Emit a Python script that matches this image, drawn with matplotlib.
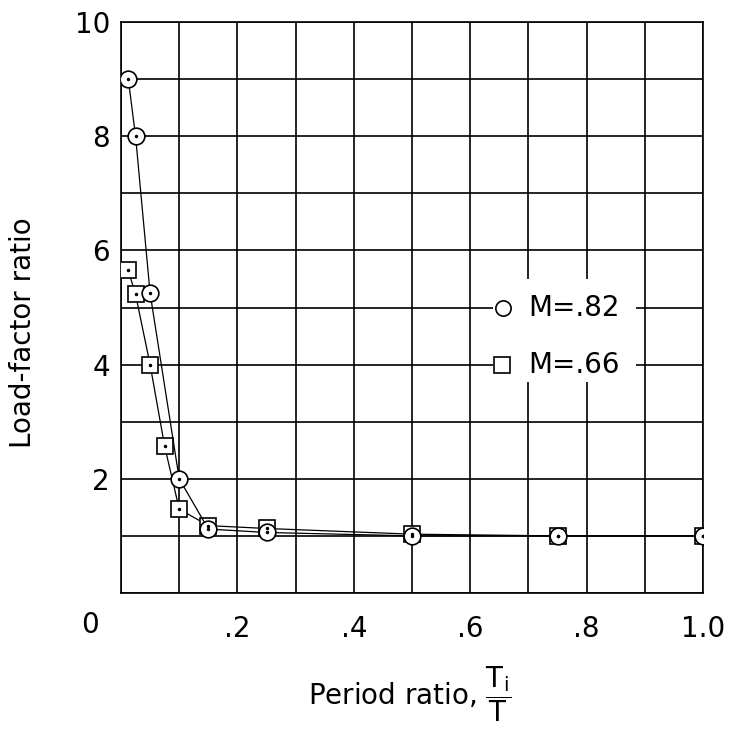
import matplotlib
matplotlib.use("Agg")
import matplotlib.pyplot as plt
from matplotlib.patches import Rectangle

plt.rcParams['font.family'] = ['DejaVu Sans']
plt.rcParams['mathtext.fontset'] = 'dejavusans'

# Data
x_m82 = [0.0125, 0.025, 0.05, 0.10, 0.15, 0.25, 0.50, 0.75, 1.00]
y_m82 = [9.0, 8.0, 5.25, 2.0, 1.12, 1.06, 1.0, 1.0, 1.0]

x_m66 = [0.0125, 0.025, 0.05, 0.075, 0.10, 0.15, 0.25, 0.50, 0.75, 1.00]
y_m66 = [5.65, 5.23, 4.0, 2.57, 1.47, 1.18, 1.13, 1.03, 1.0, 1.0]

legend_labels = ['M=.82', 'M=.66']
x_grid = [i / 10 for i in range(11)]
x_tick_labels = ['', '', '.2', '', '.4', '', '.6', '', '.8', '', '1.0']
y_grid = list(range(11))
y_tick_labels = ['', '', '2', '', '4', '', '6', '', '8', '', '10']

W, H = 729, 732
fig = plt.figure(figsize=(W / 100, H / 100), dpi=100)
ax = fig.add_axes([121 / W, (H - 593) / H, 582 / W, 571 / H])

ax.set_xlim(0, 1.0)
ax.set_ylim(0, 10)
ax.set_xticks(x_grid)
ax.set_xticklabels(x_tick_labels)
ax.set_yticks(y_grid)
ax.set_yticklabels(y_tick_labels)
ax.tick_params(axis='both', length=0, labelsize=20)
ax.tick_params(axis='x', pad=16)
ax.tick_params(axis='y', pad=8)
ax.set_axisbelow(True)
ax.grid(True, color='black', linewidth=1.2)
for s in ax.spines.values():
    s.set_linewidth(1.2)

# white box behind legend text
ax.add_patch(Rectangle((0.64, 3.7), 0.245, 1.8, facecolor='white',
                       edgecolor='none', zorder=1))

ms = 12
ax.plot(x_m66, y_m66, color='black', linewidth=0.9, marker='s',
        markersize=ms - 1, markerfacecolor='white', markeredgecolor='black',
        markeredgewidth=1.2, zorder=3)
ax.plot(x_m82, y_m82, color='black', linewidth=0.9, marker='o',
        markersize=ms, markerfacecolor='white', markeredgecolor='black',
        markeredgewidth=1.2, zorder=4)
ax.plot(x_m82 + x_m66, y_m82 + y_m66, linestyle='none', marker='o',
        markersize=1.5, color='black', zorder=5)

# legend entries
ax.plot([0.657], [5.0], marker='o', markersize=11, markerfacecolor='white',
        markeredgecolor='black', markeredgewidth=1.2, linestyle='none', zorder=4)
ax.plot([0.655], [4.0], marker='s', markersize=11, markerfacecolor='white',
        markeredgecolor='black', markeredgewidth=1.2, linestyle='none', zorder=4)
ax.text(0.700, 5.0, legend_labels[0], fontsize=20, va='center', ha='left', zorder=4)
ax.text(0.700, 4.0, legend_labels[1], fontsize=20, va='center', ha='left', zorder=4)

# corner zero
fig.text(90 / W, 1 - 625 / H, '0', fontsize=20, ha='center', va='center')

fig.text(23 / W, 1 - 333 / H, 'Load-factor ratio', fontsize=20, rotation=90,
         ha='center', va='center')
fig.text(410 / W, 1 - 694 / H, r'Period ratio, $\dfrac{\mathrm{T}_\mathrm{i}}{\mathrm{T}}$',
         fontsize=20, ha='center', va='center')

fig.savefig('out.png', dpi=100)
